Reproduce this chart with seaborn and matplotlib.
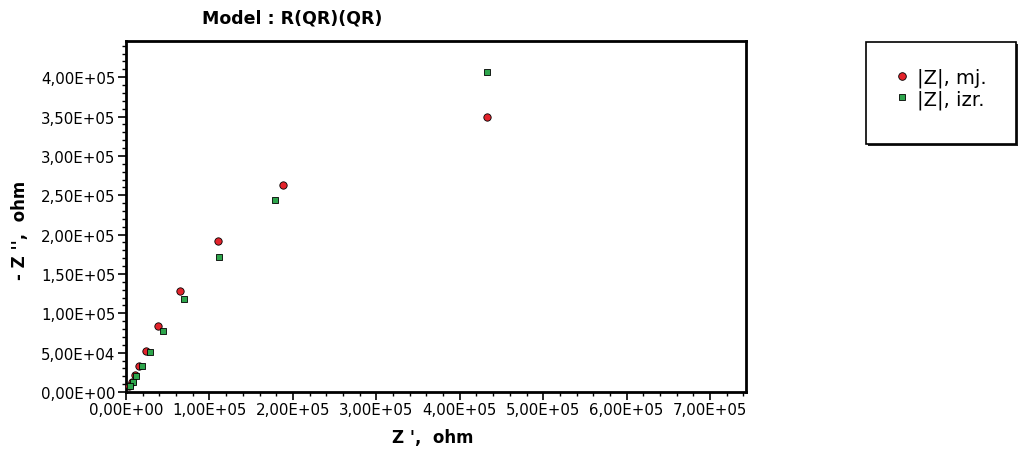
import matplotlib
matplotlib.use("Agg")
import matplotlib.pyplot as plt
import matplotlib.ticker as mticker
from matplotlib.patches import Rectangle
from matplotlib.lines import Line2D
import seaborn as sns
import pandas as pd

# measured (Z', -Z'') pairs in ohm
mj_re = [433000, 188000, 110000, 65000, 38000, 24000, 16000, 11000, 7000, 4000]
mj_im = [350000, 263000, 192000, 128000, 84000, 52000, 33000, 21000, 13000, 7000]
izr_re = [433000, 179000, 111500, 70000, 44000, 29000, 19000, 12000, 8000, 5000]
izr_im = [406000, 244000, 171000, 118000, 78000, 51000, 33000, 20000, 13000, 7000]

labels = ["|Z|, mj.", "|Z|, izr."]
colors = ["#e3232b", "#2ea54c"]

df_mj = pd.DataFrame({"re": mj_re, "im": mj_im})
df_izr = pd.DataFrame({"re": izr_re, "im": izr_im})

sns.set_style("ticks")
plt.rcParams["font.family"] = ["DejaVu Sans"]
plt.rcParams["text.color"] = "black"
plt.rcParams["xtick.color"] = "black"
plt.rcParams["ytick.color"] = "black"

fig = plt.figure(figsize=(10.23, 4.52), dpi=100)
ax = fig.add_axes([126 / 1023, 1 - 393 / 452, 620 / 1023, 351 / 452])

sns.scatterplot(data=df_mj, x="re", y="im", ax=ax, color=colors[0], marker="o",
                s=28, edgecolor="black", linewidth=0.6, zorder=3)
sns.scatterplot(data=df_izr, x="re", y="im", ax=ax, color=colors[1], marker="s",
                s=24, edgecolor="black", linewidth=0.6, zorder=4)

ax.set_xlim(0, 7.43e5)
ax.set_ylim(0, 4.46e5)
ax.xaxis.set_major_locator(mticker.MultipleLocator(1e5))
ax.xaxis.set_minor_locator(mticker.MultipleLocator(2e4))
ax.yaxis.set_major_locator(mticker.MultipleLocator(5e4))
ax.yaxis.set_minor_locator(mticker.MultipleLocator(1e4))
fmt = mticker.FuncFormatter(lambda v, p: f"{v:.2E}".replace(".", ","))
ax.xaxis.set_major_formatter(fmt)
ax.yaxis.set_major_formatter(fmt)
ax.tick_params(which="major", length=6, width=1.2, labelsize=10.8, direction="out", pad=1.5)
ax.tick_params(which="minor", length=3, width=1.0, direction="out")
for sp in ax.spines.values():
    sp.set_visible(True)
    sp.set_linewidth(2)
    sp.set_color("black")
ax.set_xlabel("")
ax.set_ylabel("")

fig.text(292 / 1023, 1 - 18 / 452, "Model : R(QR)(QR)", ha="center", va="center",
         fontsize=12.5, fontweight="bold")
fig.text(433 / 1023, 1 - 438 / 452, "Z ',  ohm", ha="center", va="center",
         fontsize=12, fontweight="bold")
fig.text(20 / 1023, 1 - 230 / 452, "- Z '',  ohm", ha="center", va="center",
         fontsize=12, fontweight="bold", rotation=90)

# legend box with shadow
fig.patches.append(Rectangle((868 / 1023, 1 - 147 / 452), 150 / 1023, 102 / 452,
                             transform=fig.transFigure, facecolor="#222222",
                             edgecolor="none", zorder=0))
fig.patches.append(Rectangle((866 / 1023, 1 - 145 / 452), 150 / 1023, 102 / 452,
                             transform=fig.transFigure, facecolor="white",
                             edgecolor="black", linewidth=1.2, zorder=1))
handles = [
    Line2D([], [], linestyle="none", marker="o", markersize=5.5, markerfacecolor=colors[0],
           markeredgecolor="black", markeredgewidth=0.6),
    Line2D([], [], linestyle="none", marker="s", markersize=5, markerfacecolor=colors[1],
           markeredgecolor="black", markeredgewidth=0.6),
]
fig.legend(handles, labels, loc="upper left", bbox_to_anchor=(884 / 1023, 1 - 59 / 452),
           frameon=False, fontsize=14, handlelength=0.8, handletextpad=0.4,
           labelspacing=0.1, borderpad=0)

fig.savefig("out.png", dpi=100)
